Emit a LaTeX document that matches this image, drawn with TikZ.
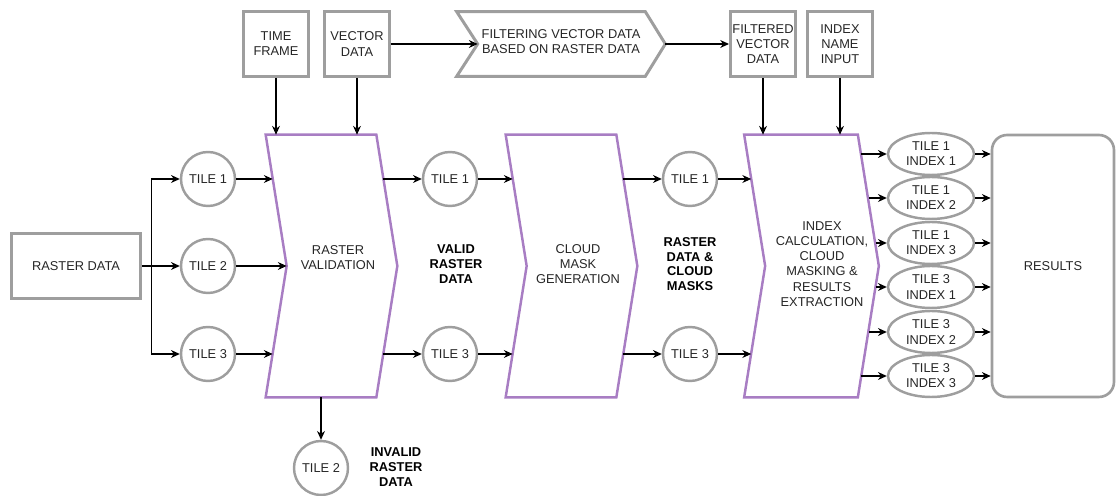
\documentclass[tikz,border=0pt]{standalone}
\usepackage{fontspec}
\setmainfont{Liberation Sans}
\usepackage{xcolor}
\usepackage{tikz}
\usetikzlibrary{shapes.geometric, arrows.meta, positioning, calc}

\definecolor{boxgray}{HTML}{9E9E9E}
\definecolor{stagepurple}{HTML}{A87DC3}

\tikzset{
    every node/.style={font=\fontsize{7.3}{8.6}\selectfont, align=center, text=black!85},
    databox/.style={draw=boxgray, line width=1.7pt, minimum width=1.3cm, minimum height=1.3cm, inner sep=1pt},
    tile/.style={circle, draw=boxgray, line width=1.4pt, minimum size=1.08cm, inner sep=0pt},
    result/.style={ellipse, draw=boxgray, line width=1.4pt, minimum width=1.72cm, minimum height=0.84cm, inner sep=0pt},
    stage/.style={minimum width=2.2cm, minimum height=5.24cm, inner sep=0pt},
    stageline/.style={draw=stagepurple, line width=1.4pt, line join=miter},
    tag/.style={font=\bfseries\fontsize{7.3}{8.4}\selectfont, text=black},
    arr/.style={-{Stealth[length=5pt,width=4.5pt]}, line width=0.6pt}
}

\begin{document}
\begin{tikzpicture}[x=0.02cm, y=-0.02cm]
    \useasboundingbox (0,0) rectangle (1117,496);

    % inputs on top
    \node[databox] (tf) at (276,44) {TIME\\FRAME};
    \node[databox] (vd) at (357,44) {VECTOR\\DATA};
    \node[minimum width=3.76cm, minimum height=1.28cm, inner sep=0pt] (fv) at (551,44) {};
    \node (fvtxt) at (561,42) {FILTERING VECTOR DATA\\BASED ON RASTER DATA};
    \node[databox] (fd) at (763,44) {FILTERED\\VECTOR\\DATA};
    \node[databox] (ni) at (840,44) {INDEX\\NAME\\INPUT};
    \draw[boxgray, line width=1.7pt] (fv.north west) -- ($(fv.west)+(21,0)$) -- (fv.south west)
        -- (fv.south east) -- ($(fv.east)+(20,0)$) -- (fv.north east) -- cycle;

    % raster data and tiles
    \node[databox, minimum width=2.6cm] (raster) at (76,266) {RASTER DATA};
    \foreach \i/\y in {1/179, 2/266, 3/354}
        \node[tile] (in\i) at (208,\y) {TILE \i};

    % processing stages
    \node[stage] (rv) at (321,266) {};
    \node[stage] (cm) at (561,266) {};
    \node[stage, minimum width=2.26cm] (ic) at (801,266) {};
    \foreach \s in {rv, cm, ic}
        \draw[stageline] (\s.north west) -- ($(\s.west)+(21,0)$) -- (\s.south west)
            -- (\s.south east) -- ($(\s.east)+(21,0)$) -- (\s.north east) -- cycle;
    \node (rvtxt) at (338,258) {RASTER\\VALIDATION};
    \node (cmtxt) at (578,264) {CLOUD\\MASK\\GENERATION};
    \node (ictxt) at (822,264) {INDEX\\CALCULATION,\\CLOUD\\MASKING \&\\RESULTS\\EXTRACTION};

    % intermediate tiles
    \node[tile] (v1) at (450,179) {TILE 1};
    \node[tile] (v3) at (450,354) {TILE 3};
    \node[tile] (m1) at (690,179) {TILE 1};
    \node[tile] (m3) at (690,354) {TILE 3};
    \node[tile] (bad) at (321,468) {TILE 2};
    \node[tag] (validtxt) at (456,264) {VALID\\RASTER\\DATA};
    \node[tag] (masktxt) at (690,264) {RASTER\\DATA \&\\CLOUD\\MASKS};
    \node[tag] (badtxt) at (396,467) {INVALID\\RASTER\\DATA};

    % results
    \node[draw=boxgray, line width=1.5pt, rounded corners=0.3cm, minimum width=2.44cm, minimum height=5.24cm] (res) at (1053,266) {RESULTS};

    % connectors
    \draw[arr] (raster.east) -- (in2);
    \foreach \i in {1,3}
        \draw[arr] (raster.east) -- ++(9,0) |- (in\i);
    \draw[arr] (in1) -- ($(in1 -| rv.west)+(7,0)$);
    \draw[arr] (in2) -- ($(in2 -| rv.west)+(21,0)$);
    \draw[arr] (in3) -- ($(in3 -| rv.west)+(7,0)$);
    \draw[arr] (tf) -- (tf |- rv.north);
    \draw[arr] (vd) -- (vd |- rv.north);
    \draw[arr] (vd) -- ($(fv.west)+(21,0)$);
    \draw[arr] ($(fv.east)+(20,0)$) -- (fd);
    \draw[arr] (fd) -- (fd |- ic.north);
    \draw[arr] (ni) -- (ni |- ic.north);
    \draw[arr] (rv.south) -- (bad);
    \foreach \i in {1,3} {
        \draw[arr] ($(v\i -| rv.east)+(7,0)$) -- (v\i);
        \draw[arr] (v\i) -- ($(v\i -| cm.west)+(7,0)$);
        \draw[arr] ($(m\i -| cm.east)+(7,0)$) -- (m\i);
        \draw[arr] (m\i) -- ($(m\i -| ic.west)+(7,0)$);
    }

    % index outputs
    \foreach \t/\k/\y/\dx in {1/1/154/3, 1/2/198/11, 1/3/243/18, 3/1/287/18, 3/2/332/11, 3/3/376/3} {
        \node[result] (o\t\k) at (931,\y) {TILE \t\\INDEX \k};
        \draw[arr] ($(o\t\k -| ic.east)+(\dx,0)$) -- (o\t\k);
        \draw[arr] (o\t\k) -- (o\t\k -| res.west);
    }
\end{tikzpicture}
\end{document}
